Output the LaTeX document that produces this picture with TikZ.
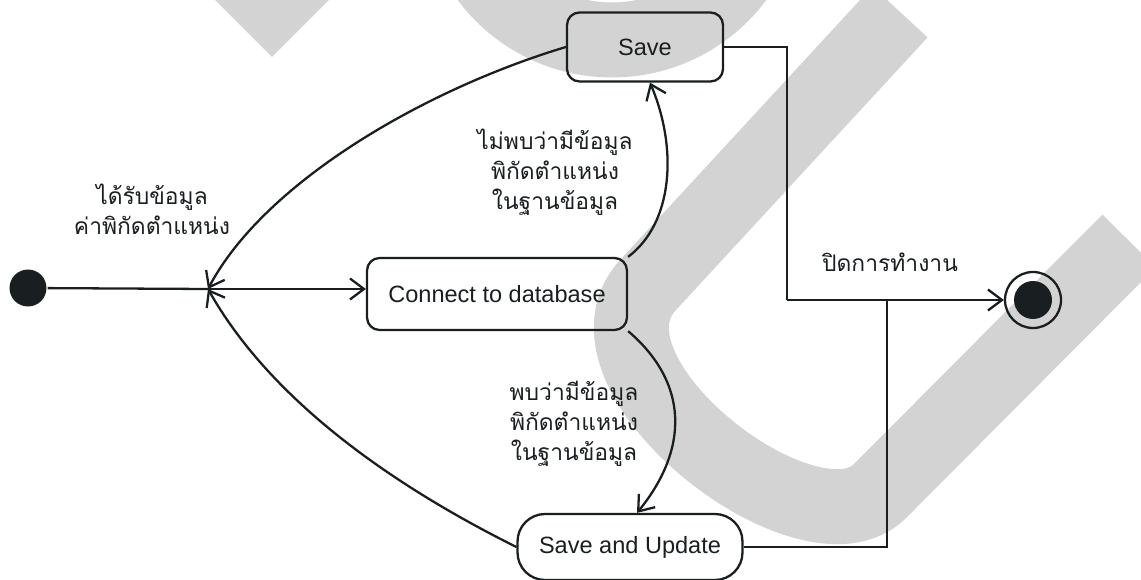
\documentclass[tikz,border=0pt]{standalone}
\usepackage{fontspec}
\setmainfont{Liberation Sans}
\newfontfamily\thaifont[Script=Thai]{Loma}
\usetikzlibrary{arrows.meta}
\definecolor{WMGray}{RGB}{211,211,211}
\definecolor{InkBlack}{RGB}{25,30,32}

\begin{document}
\begin{tikzpicture}[x=0.02cm, y=-0.02cm, line width=1.3pt]
        \tikzstyle{state} = [rectangle, draw=InkBlack, rounded corners=0.25cm,
          font=\fontsize{13.4}{16}\selectfont, text=InkBlack]
        \tikzstyle{guard} = [font=\thaifont\fontsize{13}{17}\selectfont, align=center,
          inner sep=0, text=InkBlack]
        \tikzstyle{trans} = [draw=InkBlack, -{Straight Barb[length=0.28cm, width=0.42cm]}]
        \tikzstyle{wm} = [draw=WMGray, line width=1.5cm]

        \useasboundingbox (0,0) rectangle (1141,580);

        % watermark in the background
        \begin{scope}
          \clip (0,0) rectangle (1141,580);
          \draw[wm] (612,-115) circle[radius=3.1cm];
          \fill[WMGray] (215,0) -- (272,57) -- (329,0) -- cycle;
          \draw[wm] (900,12) -- (648,285) .. controls (566,374) and (809,562) .. (880,491) -- (1129,241);
        \end{scope}

        % states
        \node[state, minimum width=5.2cm, minimum height=1.44cm] (connect) at (497,294) {Connect to database};
        \node[state, minimum width=3.12cm, minimum height=1.38cm] (save) at (645,47) {Save};
        \node[state, rounded corners=0.55cm, minimum width=4.5cm, minimum height=1.32cm] (saveupd) at (630,547) {Save and Update};
        \node[circle, fill=InkBlack, minimum size=0.74cm, inner sep=0] (init) at (28,288) {};
        \node[circle, draw=InkBlack, minimum size=1.12cm, inner sep=0] (final) at (1033,300) {};
        \node[circle, fill=InkBlack, minimum size=0.76cm, inner sep=0] (finaldot) at (final) {};

        \coordinate (junc) at (208,289);
        \coordinate (bendS) at (787,300);
        \coordinate (join) at (887,300);

        % transitions
        \draw[InkBlack] (init) -- (junc);
        \draw[trans] (junc) -- (junc -| connect.west);
        \draw[trans] (save.west) .. controls (423,90) and (264,183) .. (junc);
        \draw[trans] (saveupd.west) .. controls (382,480) and (268,395) .. (junc);
        \draw[trans] (connect.north east) .. controls (673,223) and (678,149) .. ([xshift=0.1cm]save.south);
        \draw[trans] (connect.south east) .. controls (689,383) and (689,449) .. ([xshift=0.14cm]saveupd.north);
        \draw[InkBlack] (save.east) -| (bendS);
        \draw[trans] (bendS) -- (final);
        \draw[InkBlack] (saveupd.east) -| (join);

        % guards
        \node[guard] (gstart) at (152,209) {ได้รับข้อมูล\\ค่าพิกัดตำแหน่ง};
        \node[guard] (gnotfound) at (555,172) {ไม่พบว่ามีข้อมูล\\พิกัดตำแหน่ง\\ในฐานข้อมูล};
        \node[guard] (gfound) at (574,424) {พบว่ามีข้อมูล\\พิกัดตำแหน่ง\\ในฐานข้อมูล};
        \node[guard] (gclose) at (890,262) {ปิดการทำงาน};
      \end{tikzpicture}
\end{document}
